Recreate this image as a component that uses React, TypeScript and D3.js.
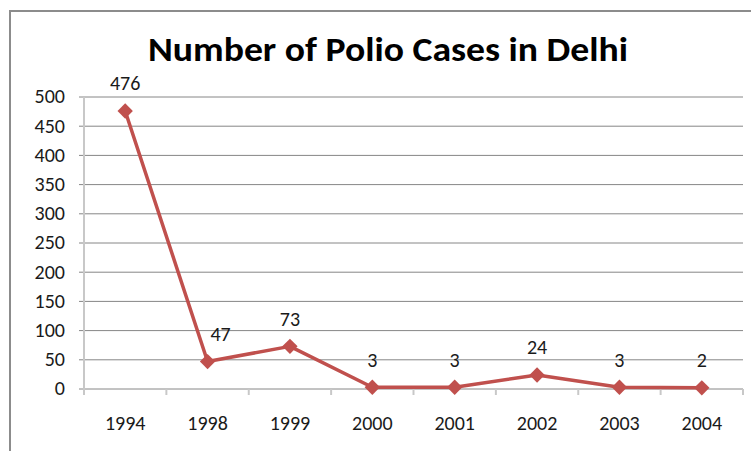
import * as d3 from "d3";

const width = 751;
const height = 451;
const margin = { top: 97, right: 8, bottom: 62, left: 84 };

const years = ["1994", "1998", "1999", "2000", "2001", "2002", "2003", "2004"];
const cases = [476, 47, 73, 3, 3, 24, 3, 2];
const yTicks = [0, 50, 100, 150, 200, 250, 300, 350, 400, 450, 500];

const lineColor = "#C0504D";
const font = "Calibri, Carlito, 'Liberation Sans', Arial, sans-serif";

const App = () => {
  const x = d3
    .scaleBand()
    .domain(years)
    .range([margin.left, width - margin.right]);
  const y = d3
    .scaleLinear()
    .domain([0, 500])
    .range([height - margin.bottom, margin.top]);

  const cx = (d: string) => (x(d) as number) + x.bandwidth() / 2;
  const points = years.map((yr, i) => ({ yr, v: cases[i] }));

  const line = d3
    .line<{ yr: string; v: number }>()
    .x((d) => cx(d.yr))
    .y((d) => y(d.v));

  const diamond = d3.symbol().type(d3.symbolDiamond2).size(150)();
  const boundaries = [...years.map((d) => x(d) as number), width - margin.right];
  const y0 = y(0);

  return (
    <svg
      width={width}
      height={height}
      style={{ position: "absolute", left: 0, top: 0, background: "#fff" }}
    >
      {/* chart frame (only top and left edges visible) */}
      <line x1={10} x2={width} y1={11} y2={11} stroke="#8c8c8c" strokeWidth={2} />
      <line x1={10} x2={10} y1={10} y2={height} stroke="#8c8c8c" strokeWidth={2} />

      <text
        x={388}
        y={61}
        textAnchor="middle"
        fontFamily={font}
        fontWeight="bold"
        fontSize={34}
        textLength={480}
        lengthAdjust="spacingAndGlyphs"
        fill="#000"
      >
        Number of Polio Cases in Delhi
      </text>

      {/* gridlines */}
      {yTicks.map((t) => (
        <g key={t}>
          <line
            x1={margin.left - 5}
            x2={width - margin.right}
            y1={y(t)}
            y2={y(t)}
            stroke="#868686"
            strokeWidth={1}
          />
          <text
            x={65}
            y={y(t)}
            dy="0.32em"
            textAnchor="end"
            fontFamily={font}
            fontSize={20}
            fill="#1a1a1a"
          >
            {t}
          </text>
        </g>
      ))}

      {/* y axis line */}
      <line
        x1={margin.left}
        x2={margin.left}
        y1={margin.top}
        y2={y0 + 6}
        stroke="#c8c8c8"
        strokeWidth={2}
      />

      {/* category tick marks */}
      {boundaries.slice(1).map((b, i) => (
        <line key={i} x1={b} x2={b} y1={y0} y2={y0 + 6} stroke="#c8c8c8" strokeWidth={2} />
      ))}

      {years.map((yr) => (
        <text
          key={yr}
          x={cx(yr)}
          y={y0 + 41}
          textAnchor="middle"
          fontFamily={font}
          fontSize={20}
          fill="#1a1a1a"
        >
          {yr}
        </text>
      ))}

      <path d={line(points) ?? ""} fill="none" stroke={lineColor} strokeWidth={3.5} strokeLinejoin="round" />

      {points.map((p) => (
        <g key={p.yr}>
          <path d={diamond ?? ""} transform={`translate(${cx(p.yr)},${y(p.v)})`} fill={lineColor} />
          <text
            // the 1998 label sits nudged to the right of its point in the original
            x={cx(p.yr) + (p.yr === "1998" ? 13 : 0)}
            y={y(p.v) - 27}
            dy="0.32em"
            textAnchor="middle"
            fontFamily={font}
            fontSize={20}
            fill="#1a1a1a"
          >
            {p.v}
          </text>
        </g>
      ))}
    </svg>
  );
};

export default App;
